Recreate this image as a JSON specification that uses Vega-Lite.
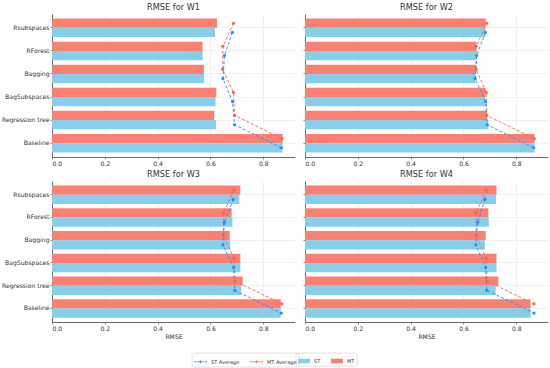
{
  "$schema": "https://vega.github.io/schema/vega-lite/v6.json",
  "padding": {"left": 1, "right": 2, "top": 2, "bottom": 1},
  "data": {"values": [
    {"w":"W1","method":"Rsubspaces","series":"MT","value":0.625,"avg":0.687,"avgSeries":"MT Average"},
    {"w":"W1","method":"RForest","series":"MT","value":0.570,"avg":0.647,"avgSeries":"MT Average"},
    {"w":"W1","method":"Bagging","series":"MT","value":0.575,"avg":0.646,"avgSeries":"MT Average"},
    {"w":"W1","method":"BagSubspaces","series":"MT","value":0.622,"avg":0.687,"avgSeries":"MT Average"},
    {"w":"W1","method":"Regression tree","series":"MT","value":0.614,"avg":0.692,"avgSeries":"MT Average"},
    {"w":"W1","method":"Baseline","series":"MT","value":0.873,"avg":0.871,"avgSeries":"MT Average"},
    {"w":"W1","method":"Rsubspaces","series":"ST","value":0.617,"avg":0.683,"avgSeries":"ST Average"},
    {"w":"W1","method":"RForest","series":"ST","value":0.570,"avg":0.653,"avgSeries":"ST Average"},
    {"w":"W1","method":"Bagging","series":"ST","value":0.576,"avg":0.647,"avgSeries":"ST Average"},
    {"w":"W1","method":"BagSubspaces","series":"ST","value":0.619,"avg":0.684,"avgSeries":"ST Average"},
    {"w":"W1","method":"Regression tree","series":"ST","value":0.621,"avg":0.691,"avgSeries":"ST Average"},
    {"w":"W1","method":"Baseline","series":"ST","value":0.873,"avg":0.868,"avgSeries":"ST Average"},
    {"w":"W2","method":"Rsubspaces","series":"MT","value":0.684,"avg":0.688,"avgSeries":"MT Average"},
    {"w":"W2","method":"RForest","series":"MT","value":0.649,"avg":0.648,"avgSeries":"MT Average"},
    {"w":"W2","method":"Bagging","series":"MT","value":0.648,"avg":0.648,"avgSeries":"MT Average"},
    {"w":"W2","method":"BagSubspaces","series":"MT","value":0.683,"avg":0.686,"avgSeries":"MT Average"},
    {"w":"W2","method":"Regression tree","series":"MT","value":0.690,"avg":0.688,"avgSeries":"MT Average"},
    {"w":"W2","method":"Baseline","series":"MT","value":0.869,"avg":0.868,"avgSeries":"MT Average"},
    {"w":"W2","method":"Rsubspaces","series":"ST","value":0.683,"avg":0.683,"avgSeries":"ST Average"},
    {"w":"W2","method":"RForest","series":"ST","value":0.648,"avg":0.650,"avgSeries":"ST Average"},
    {"w":"W2","method":"Bagging","series":"ST","value":0.645,"avg":0.644,"avgSeries":"ST Average"},
    {"w":"W2","method":"BagSubspaces","series":"ST","value":0.683,"avg":0.684,"avgSeries":"ST Average"},
    {"w":"W2","method":"Regression tree","series":"ST","value":0.694,"avg":0.690,"avgSeries":"ST Average"},
    {"w":"W2","method":"Baseline","series":"ST","value":0.869,"avg":0.866,"avgSeries":"ST Average"},
    {"w":"W3","method":"Rsubspaces","series":"MT","value":0.713,"avg":0.689,"avgSeries":"MT Average"},
    {"w":"W3","method":"RForest","series":"MT","value":0.680,"avg":0.650,"avgSeries":"MT Average"},
    {"w":"W3","method":"Bagging","series":"MT","value":0.673,"avg":0.648,"avgSeries":"MT Average"},
    {"w":"W3","method":"BagSubspaces","series":"MT","value":0.713,"avg":0.689,"avgSeries":"MT Average"},
    {"w":"W3","method":"Regression tree","series":"MT","value":0.722,"avg":0.693,"avgSeries":"MT Average"},
    {"w":"W3","method":"Baseline","series":"MT","value":0.866,"avg":0.870,"avgSeries":"MT Average"},
    {"w":"W3","method":"Rsubspaces","series":"ST","value":0.709,"avg":0.686,"avgSeries":"ST Average"},
    {"w":"W3","method":"RForest","series":"ST","value":0.683,"avg":0.653,"avgSeries":"ST Average"},
    {"w":"W3","method":"Bagging","series":"ST","value":0.675,"avg":0.647,"avgSeries":"ST Average"},
    {"w":"W3","method":"BagSubspaces","series":"ST","value":0.713,"avg":0.688,"avgSeries":"ST Average"},
    {"w":"W3","method":"Regression tree","series":"ST","value":0.716,"avg":0.692,"avgSeries":"ST Average"},
    {"w":"W3","method":"Baseline","series":"ST","value":0.866,"avg":0.868,"avgSeries":"ST Average"},
    {"w":"W4","method":"Rsubspaces","series":"MT","value":0.725,"avg":0.686,"avgSeries":"MT Average"},
    {"w":"W4","method":"RForest","series":"MT","value":0.694,"avg":0.648,"avgSeries":"MT Average"},
    {"w":"W4","method":"Bagging","series":"MT","value":0.684,"avg":0.648,"avgSeries":"MT Average"},
    {"w":"W4","method":"BagSubspaces","series":"MT","value":0.725,"avg":0.686,"avgSeries":"MT Average"},
    {"w":"W4","method":"Regression tree","series":"MT","value":0.732,"avg":0.689,"avgSeries":"MT Average"},
    {"w":"W4","method":"Baseline","series":"MT","value":0.854,"avg":0.867,"avgSeries":"MT Average"},
    {"w":"W4","method":"Rsubspaces","series":"ST","value":0.723,"avg":0.681,"avgSeries":"ST Average"},
    {"w":"W4","method":"RForest","series":"ST","value":0.696,"avg":0.654,"avgSeries":"ST Average"},
    {"w":"W4","method":"Bagging","series":"ST","value":0.681,"avg":0.647,"avgSeries":"ST Average"},
    {"w":"W4","method":"BagSubspaces","series":"ST","value":0.725,"avg":0.684,"avgSeries":"ST Average"},
    {"w":"W4","method":"Regression tree","series":"ST","value":0.722,"avg":0.688,"avgSeries":"ST Average"},
    {"w":"W4","method":"Baseline","series":"ST","value":0.854,"avg":0.867,"avgSeries":"ST Average"}
  ]},
  "vconcat": [
    {"hconcat": [
      {
        "width": 243, "height": 143,
        "title": {"text": "RMSE for W1"},
        "transform": [{"filter": "datum.w == 'W1'"}],
        "layer": [
          {"mark": {"type": "bar"},
           "encoding": {
             "y": {"field": "method", "type": "nominal", "sort": ["Rsubspaces","RForest","Bagging","BagSubspaces","Regression tree","Baseline"], "title": null, "scale": {"paddingInner": 0.2, "paddingOuter": 0.2}, "axis": {"grid": true, "labels": true}},
             "yOffset": {"field": "series", "type": "nominal", "sort": ["MT","ST"]},
             "x": {"field": "value", "type": "quantitative", "scale": {"domain": [0, 0.92], "nice": false}, "title": null, "axis": {"values": [0,0.2,0.4,0.6,0.8], "format": ".1f"}},
             "fill": {"field": "series", "type": "nominal",
               "scale": {"domain": ["ST","MT"], "range": ["#87CEEB","#FA8072"]},
               "legend": {"title": null, "orient": "none", "legendX": 244, "legendY": 339, "direction": "horizontal", "symbolType": "M-1,-0.38H1V0.38H-1Z", "symbolStrokeWidth": 0, "symbolSize": 144}}
           }},
          {"mark": {"type": "line", "strokeDash": [3, 2], "strokeWidth": 0.9, "point": {"filled": true, "size": 10}},
           "encoding": {
             "y": {"field": "method", "type": "nominal", "sort": ["Rsubspaces","RForest","Bagging","BagSubspaces","Regression tree","Baseline"]},
             "yOffset": {"field": "series", "type": "nominal", "sort": ["MT","ST"]},
             "x": {"field": "avg", "type": "quantitative"},
             "color": {"field": "avgSeries", "type": "nominal",
               "scale": {"domain": ["ST Average","MT Average"], "range": ["#1E90FF","#FF6347"]},
               "legend": {"title": null, "orient": "none", "legendX": 140, "legendY": 339, "direction": "horizontal", "symbolType": "M-1.05,0H-0.7M-0.5,0H-0.28M0.28,0H0.5M0.7,0H1.05M-0.14,0A0.14,0.14 0 1 1 0.14,0A0.14,0.14 0 1 1 -0.14,0Z", "symbolStrokeWidth": 1, "symbolSize": 144, "columnPadding": 8}},
             "order": {"value": null}
           }}
        ]
      },
      {
        "width": 243, "height": 143,
        "title": {"text": "RMSE for W2"},
        "transform": [{"filter": "datum.w == 'W2'"}],
        "layer": [
          {"mark": {"type": "bar"},
           "encoding": {
             "y": {"field": "method", "type": "nominal", "sort": ["Rsubspaces","RForest","Bagging","BagSubspaces","Regression tree","Baseline"], "title": null, "scale": {"paddingInner": 0.2, "paddingOuter": 0.2}, "axis": {"grid": true, "labels": false}},
             "yOffset": {"field": "series", "type": "nominal", "sort": ["MT","ST"]},
             "x": {"field": "value", "type": "quantitative", "scale": {"domain": [0, 0.92], "nice": false}, "title": null, "axis": {"values": [0,0.2,0.4,0.6,0.8], "format": ".1f"}},
             "fill": {"field": "series", "type": "nominal"}
           }},
          {"mark": {"type": "line", "strokeDash": [3, 2], "strokeWidth": 0.9, "point": {"filled": true, "size": 10}},
           "encoding": {
             "y": {"field": "method", "type": "nominal", "sort": ["Rsubspaces","RForest","Bagging","BagSubspaces","Regression tree","Baseline"]},
             "yOffset": {"field": "series", "type": "nominal", "sort": ["MT","ST"]},
             "x": {"field": "avg", "type": "quantitative"},
             "color": {"field": "avgSeries", "type": "nominal"},
             "order": {"value": null}
           }}
        ]
      }
    ]},
    {"hconcat": [
      {
        "width": 243, "height": 141,
        "title": {"text": "RMSE for W3"},
        "transform": [{"filter": "datum.w == 'W3'"}],
        "layer": [
          {"mark": {"type": "bar"},
           "encoding": {
             "y": {"field": "method", "type": "nominal", "sort": ["Rsubspaces","RForest","Bagging","BagSubspaces","Regression tree","Baseline"], "title": null, "scale": {"paddingInner": 0.2, "paddingOuter": 0.2}, "axis": {"grid": true, "labels": true}},
             "yOffset": {"field": "series", "type": "nominal", "sort": ["MT","ST"]},
             "x": {"field": "value", "type": "quantitative", "scale": {"domain": [0, 0.92], "nice": false}, "title": "RMSE", "axis": {"values": [0,0.2,0.4,0.6,0.8], "format": ".1f"}},
             "fill": {"field": "series", "type": "nominal"}
           }},
          {"mark": {"type": "line", "strokeDash": [3, 2], "strokeWidth": 0.9, "point": {"filled": true, "size": 10}},
           "encoding": {
             "y": {"field": "method", "type": "nominal", "sort": ["Rsubspaces","RForest","Bagging","BagSubspaces","Regression tree","Baseline"]},
             "yOffset": {"field": "series", "type": "nominal", "sort": ["MT","ST"]},
             "x": {"field": "avg", "type": "quantitative"},
             "color": {"field": "avgSeries", "type": "nominal"},
             "order": {"value": null}
           }}
        ]
      },
      {
        "width": 243, "height": 141,
        "title": {"text": "RMSE for W4"},
        "transform": [{"filter": "datum.w == 'W4'"}],
        "layer": [
          {"mark": {"type": "bar"},
           "encoding": {
             "y": {"field": "method", "type": "nominal", "sort": ["Rsubspaces","RForest","Bagging","BagSubspaces","Regression tree","Baseline"], "title": null, "scale": {"paddingInner": 0.2, "paddingOuter": 0.2}, "axis": {"grid": true, "labels": false}},
             "yOffset": {"field": "series", "type": "nominal", "sort": ["MT","ST"]},
             "x": {"field": "value", "type": "quantitative", "scale": {"domain": [0, 0.92], "nice": false}, "title": "RMSE", "axis": {"values": [0,0.2,0.4,0.6,0.8], "format": ".1f"}},
             "fill": {"field": "series", "type": "nominal"}
           }},
          {"mark": {"type": "line", "strokeDash": [3, 2], "strokeWidth": 0.9, "point": {"filled": true, "size": 10}},
           "encoding": {
             "y": {"field": "method", "type": "nominal", "sort": ["Rsubspaces","RForest","Bagging","BagSubspaces","Regression tree","Baseline"]},
             "yOffset": {"field": "series", "type": "nominal", "sort": ["MT","ST"]},
             "x": {"field": "avg", "type": "quantitative"},
             "color": {"field": "avgSeries", "type": "nominal"},
             "order": {"value": null}
           }}
        ]
      }
    ]}
  ],
  "spacing": 2,
  "config": {
    "view": {"stroke": null},
    "font": "DejaVu Sans",
    "concat": {"spacing": 7},
    "axis": {"labelFont": "DejaVu Sans", "labelFontSize": 6.1, "labelColor": "#333", "domainColor": "#444", "domainWidth": 0.8, "tickColor": "#444", "tickSize": 2, "tickWidth": 0.6, "labelPadding": 1, "gridColor": "#e8e8e8", "gridWidth": 0.6, "titleFont": "DejaVu Sans", "titleFontSize": 6.1, "titleFontWeight": "normal", "titleColor": "#333", "titlePadding": 2},
    "title": {"font": "DejaVu Sans", "fontSize": 8.2, "fontWeight": "normal", "color": "#333", "offset": 2},
    "legend": {"labelFont": "DejaVu Sans", "labelFontSize": 5, "labelColor": "#333", "strokeColor": "#ccc", "strokeWidth": 0.6, "padding": 2, "cornerRadius": 2, "columnPadding": 10, "rowPadding": 0, "labelOffset": 4}
  }
}
